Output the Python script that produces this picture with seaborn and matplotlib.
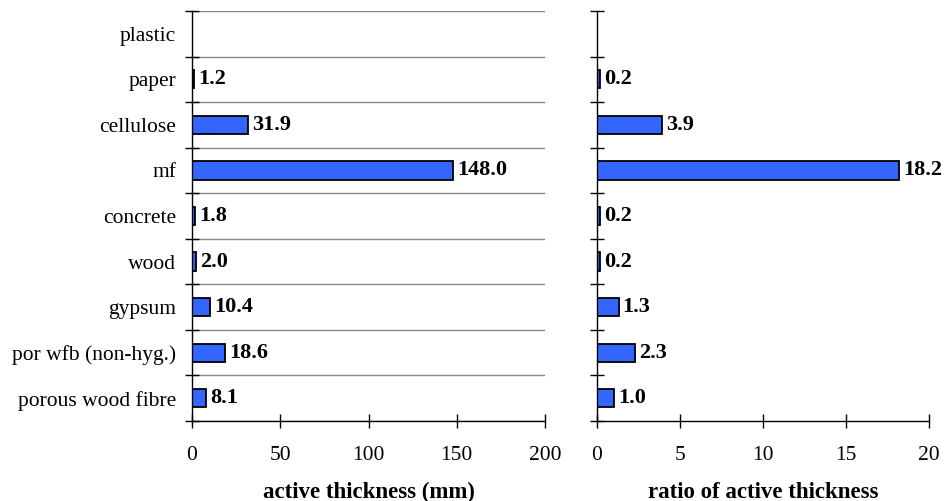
import numpy as np
import pandas as pd
import matplotlib
matplotlib.use("Agg")
import matplotlib.pyplot as plt
import seaborn as sns
from matplotlib.ticker import FixedLocator

categories = ["plastic", "paper", "cellulose", "mf", "concrete", "wood",
              "gypsum", "por wfb (non-hyg.)", "porous wood fibre"]
thickness = [np.nan, 1.2, 31.9, 148.0, 1.8, 2.0, 10.4, 18.6, 8.1]
ratio = [np.nan, 0.2, 3.9, 18.2, 0.2, 0.2, 1.3, 2.3, 1.0]
xticks_left = [0, 50, 100, 150, 200]
xticks_right = [0, 5, 10, 15, 20]

sns.set_theme(style="white")
plt.rcParams["font.family"] = ["Liberation Serif", "DejaVu Serif"]

df = pd.DataFrame({"cat": categories, "thick": thickness, "ratio": ratio})

fig = plt.figure(figsize=(9.44, 5.01), dpi=100)
ax1 = fig.add_axes([192/944, 1-421/501, (545-192)/944, (421-11)/501])
ax2 = fig.add_axes([597/944, 1-421/501, (929-597)/944, (421-11)/501])

bar_color = "#3366FF"
fs = 15.5

for ax, col, xt, xlab, grid in [(ax1, "thick", xticks_left, "active thickness (mm)", True),
                                 (ax2, "ratio", xticks_right, "ratio of active thickness", False)]:
    sns.barplot(data=df, x=col, y="cat", order=categories, orient="h", ax=ax,
                color=bar_color, saturation=1, width=0.4, edgecolor="black",
                linewidth=1.3, errorbar=None)
    for c in ax.containers:
        labels = ["" if np.isnan(v) else f"{v:.1f}" for v in c.datavalues]
        ax.bar_label(c, labels=labels, padding=3, fontsize=fs + 0.5, fontweight="bold",
                     color="black")
    ax.set_xlim(xt[0], xt[-1])
    ax.set_ylim(len(categories) - 0.5, -0.5)
    ax.set_xticks(xt)
    ax.set_xticklabels([str(v) for v in xt], fontsize=fs, color="black")
    ax.set_xlabel(xlab, fontsize=16.5, fontweight="bold", labelpad=12, color="black")
    ax.set_ylabel("")
    ax.yaxis.set_minor_locator(FixedLocator(np.arange(-0.5, len(categories), 1.0)))
    ax.tick_params(axis="y", which="major", length=0, pad=11.5, labelsize=fs, labelcolor="black")
    ax.tick_params(axis="y", which="minor", direction="inout", length=10, width=1, color="black", left=True)
    ax.tick_params(axis="x", which="major", direction="inout", length=10, width=1, color="black",
                   bottom=True, pad=13)
    for s in ["top", "right"]:
        ax.spines[s].set_visible(False)
    for s in ["left", "bottom"]:
        ax.spines[s].set_visible(True)
        ax.spines[s].set_color("black")
        ax.spines[s].set_linewidth(1)
    if grid:
        ax.grid(False)
        ax.yaxis.grid(True, which="minor", color="#888888", linewidth=1)
        ax.set_axisbelow(True)
    else:
        ax.grid(False)
        ax.set_yticklabels([])

fig.savefig("out.png", dpi=100)
